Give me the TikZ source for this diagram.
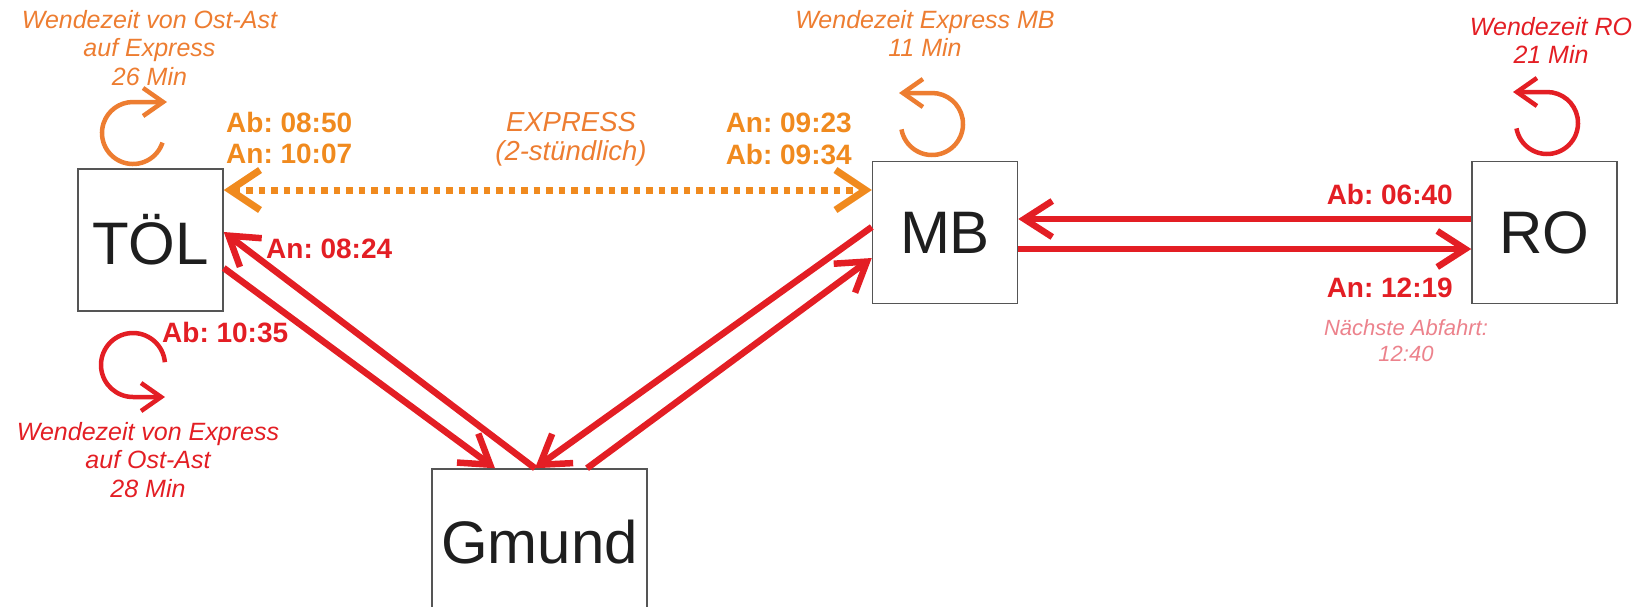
\documentclass[tikz,border=0pt]{standalone}
\usepackage{fontspec}
\setmainfont{Liberation Sans}
\usetikzlibrary{arrows.meta,calc}
\definecolor{expor}{RGB}{240,138,30}
\definecolor{loopor}{RGB}{237,125,49}
\definecolor{rred}{RGB}{227,30,36}
\definecolor{pinkr}{RGB}{236,130,140}
\definecolor{boxgray}{RGB}{85,85,85}
\definecolor{txt}{RGB}{30,30,30}
\frenchspacing
\begin{document}
\begin{tikzpicture}[x=1pt,y=1pt,
  station/.style={draw=boxgray, line width=1.5pt, minimum width=145pt, minimum height=142pt,
    inner sep=0pt, text=txt, font=\fontsize{60}{60}\selectfont},
  redarr/.style={draw=rred, line width=6.5pt, -{Straight Barb[length=28pt,width=36pt]}},
  exprarr/.style={draw=expor, line width=7pt, dash pattern=on 6.5pt off 6pt,
    {Straight Barb[length=30pt,width=40pt]}-{Straight Barb[length=30pt,width=40pt]}},
  looparr/.style={line width=4.5pt, -{Straight Barb[length=20pt,width=28pt]}},
  timelbl/.style={font=\fontsize{28}{31.5}\selectfont\bfseries, inner sep=0pt},
  ital/.style={font=\fontsize{25}{28.5}\selectfont\itshape, inner sep=0pt, align=center, anchor=north}
]
\useasboundingbox (0,0) rectangle (1638,-606);
\clip (0,0) rectangle (1638,-606);

% stations
\node[station] (tol) at (150.5,-240) {TÖL};
\node[station] (mb) at (945,-232.5) {MB};
\node[station] (ro) at (1544.5,-232.5) {RO};
\node[station, minimum width=215pt, minimum height=146pt] (gm) at (539.5,-542) {Gmund};

% express
\draw[exprarr] ([yshift=50pt]tol.east) -- ([yshift=42.5pt]mb.west);

% red connectors
\draw[redarr] ([yshift=-28pt]tol.east) -- ([xshift=-44.5pt]gm.north);
\draw[redarr] ([xshift=-4.5pt]gm.north) -- ([yshift=8pt]tol.east);
\draw[redarr] ([yshift=5.5pt]mb.west) -- ([xshift=-4.5pt]gm.north);
\draw[redarr] ([xshift=47.5pt]gm.north) -- ([yshift=-25.5pt]mb.west);
\draw[redarr] ([yshift=13.5pt]ro.west) -- ([yshift=13.5pt]mb.east);
\draw[redarr] ([yshift=-16.5pt]mb.east) -- ([yshift=-16.5pt]ro.west);

% turn loops
\draw[looparr, loopor] (133,-133) ++(-18:31) arc[start angle=-18, end angle=-270, radius=31] -- ++(34,0);
\draw[looparr, rred] (133,-365) ++(5:32) arc[start angle=5, end angle=270, radius=32] -- ++(32,0);
\draw[looparr, loopor] (932,-124) ++(190:31) arc[start angle=190, end angle=450, radius=31] -- ++(-33,0);
\draw[looparr, rred] (1547,-123) ++(190:31) arc[start angle=190, end angle=450, radius=31] -- ++(-34,0);

% italic labels
\node[ital, text=loopor] (l1) at (149.5,-10) {Wendezeit von Ost-Ast\\auf Express\\26 Min};
\node[ital, text=rred] (l2) at (148,-422) {Wendezeit von Express\\auf Ost-Ast\\28 Min};
\node[ital, text=loopor] (l3) at (925,-10) {Wendezeit Express MB\\11 Min};
\node[ital, text=rred] (l4) at (1551,-17) {Wendezeit RO\\21 Min};
\node[ital, text=loopor, font=\fontsize{27.5}{29}\selectfont\itshape] (l5) at (571,-112) {EXPRESS\\(2-stündlich)};
\node[ital, text=pinkr, font=\fontsize{22}{26}\selectfont\itshape] (l6) at (1406,-319) {Nächste Abfahrt:\\12:40};

% time labels
\node[timelbl, text=expor, align=left, anchor=north west] (t1) at (226,-112) {Ab: 08:50\\An: 10:07};
\node[timelbl, text=expor, align=right, anchor=north east] (t2) at (852,-113) {An: 09:23\\Ab: 09:34};
\node[timelbl, text=rred, anchor=base west] (t3) at (266,-258) {An: 08:24};
\node[timelbl, text=rred, anchor=base west] (t4) at (162,-342) {Ab: 10:35};
\node[timelbl, text=rred, anchor=base east] (t5) at (1453,-204) {Ab: 06:40};
\node[timelbl, text=rred, anchor=base east] (t6) at (1453,-297) {An: 12:19};
\end{tikzpicture}
\end{document}
